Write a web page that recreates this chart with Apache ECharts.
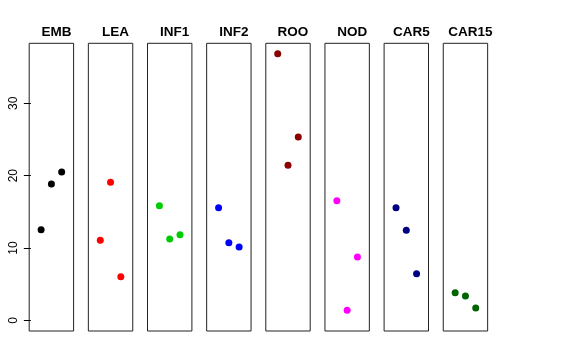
<!DOCTYPE html>
<html>
<head>
<meta charset="utf-8">
<script src="https://cdn.jsdelivr.net/npm/echarts@6/dist/echarts.min.js"></script>
<style>html,body{margin:0;padding:0;background:#fff;}#c{width:576px;height:360px;}</style>
</head>
<body>
<div id="c"></div>
<script>
var panels = ['EMB', 'LEA', 'INF1', 'INF2', 'ROO', 'NOD', 'CAR5', 'CAR15'];
var colors = ['#000000', '#FF0000', '#00CD00', '#0000FF', '#8B0000', '#FF00FF', '#000080', '#006400'];
var EMB = [12.53, 18.84, 20.50];
var LEA = [11.06, 19.08, 6.03];
var INF1 = [15.85, 11.24, 11.84];
var INF2 = [15.57, 10.73, 10.13];
var ROO = [36.86, 21.43, 25.34];
var NOD = [16.54, 1.38, 8.75];
var CAR5 = [15.57, 12.44, 6.44];
var CAR15 = [3.82, 3.36, 1.70];
var values = [EMB, LEA, INF1, INF2, ROO, NOD, CAR5, CAR15];
var xPositions = [1, 2, 3];
var yTicks = [0, 10, 20, 30];

var panelLeft0 = 29.2, panelStep = 59.15, panelW = 44.4, panelTop = 43.3, panelH = 287.7;
var grids = [], xAxes = [], yAxes = [], series = [], titles = [];
panels.forEach(function (name, i) {
  var left = panelLeft0 + i * panelStep;
  grids.push({left: left, top: panelTop, width: panelW, height: panelH, show: true,
    borderColor: '#222', borderWidth: 1, backgroundColor: 'transparent', containLabel: false});
  xAxes.push({type: 'value', gridIndex: i, min: -0.16, max: 4.16, show: false});
  var first = (i === 0);
  yAxes.push({type: 'value', gridIndex: i, min: -1.48, max: 38.3, show: true,
    axisLine: {show: false}, splitLine: {show: false},
    axisTick: {show: first, length: 7, inside: false, lineStyle: {color: '#000', width: 1}, customValues: yTicks},
    axisLabel: {show: first, rotate: 90, margin: 10, fontSize: 12, color: '#000',
      fontFamily: 'Liberation Sans, Arial, sans-serif', customValues: yTicks}
  });
  series.push({type: 'scatter', xAxisIndex: i, yAxisIndex: i, symbol: 'circle', symbolSize: 7,
    itemStyle: {color: colors[i], opacity: 1}, silent: true,
    data: values[i].map(function (v, k) { return [xPositions[k], v]; })});
  titles.push({text: name, left: left + panelW / 2, top: 20, textAlign: 'center',
    textStyle: {fontSize: 13.5, fontWeight: 'bold', color: '#000', fontFamily: 'Liberation Sans, Arial, sans-serif'}});
});

var chart = echarts.init(document.getElementById('c'), null, {renderer: 'canvas'});
chart.setOption({
  animation: false,
  backgroundColor: '#ffffff',
  title: titles,
  grid: grids,
  xAxis: xAxes,
  yAxis: yAxes,
  series: series
});
</script>
</body>
</html>
